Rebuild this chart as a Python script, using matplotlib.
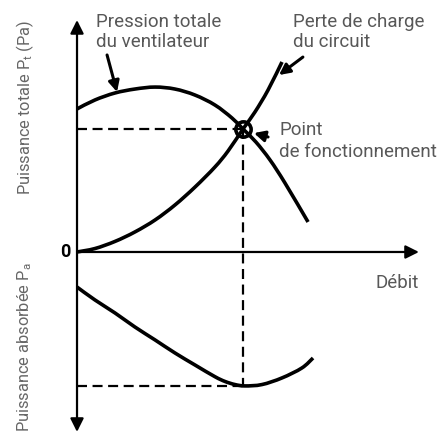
import matplotlib
matplotlib.use("Agg")
import matplotlib.pyplot as plt
import numpy as np
from matplotlib.path import Path
from matplotlib.patches import PathPatch

plt.rcParams["font.family"] = ["Roboto", "DejaVu Sans"]
plt.rcParams["mathtext.fontset"] = "custom"
plt.rcParams["mathtext.rm"] = "Roboto"

# Débit (flow) in relative units: 100 = operating point
fan_flow = [0, 10.8, 22.9, 34.9, 47.0, 59.0, 71.1, 83.1, 93.4, 100, 107.8, 116.3, 125.3, 139.2]
fan_pressure = [116.3, 123.6, 129.3, 132.5, 134.1, 132.5, 127.6, 119.5, 108.9, 100, 89.4, 74.8, 56.1, 24.4]

circuit_flow = [0, 10.8, 22.9, 34.9, 47.0, 59.0, 71.1, 83.1, 91.0, 100, 107.2, 115.1, 123.5]
circuit_loss = [0, 2.8, 8.6, 16.3, 26.0, 38.2, 52.8, 69.1, 82.1, 100, 113.8, 131.7, 154.5]

power_flow = [0, 10.8, 22.9, 34.9, 47.0, 59.0, 71.1, 83.1, 89.2, 95.2, 101.2, 111.4, 123.5, 135.5, 142.2]
power_absorbed = [28.5, 39.0, 49.6, 61.0, 71.5, 82.1, 91.9, 101.4, 105.3, 107.8, 108.9, 107.8, 102.4, 94.3, 86.2]

op_flow = 100
op_pressure = 100
op_power = 108.9

x_axis_end = 206
y_axis_top = 188.6
y_axis_bottom = -146.3

TEXT = "#585858"
LW = 2.6


def smooth_path(xs, ys):
    """Catmull-Rom curve through the given points, as cubic Bezier segments."""
    pts = np.column_stack([xs, ys]).astype(float)
    verts = [pts[0]]
    codes = [Path.MOVETO]
    n = len(pts)
    for i in range(n - 1):
        p0 = pts[i - 1] if i > 0 else pts[i]
        p1 = pts[i]
        p2 = pts[i + 1]
        p3 = pts[i + 2] if i + 2 < n else pts[i + 1]
        c1 = p1 + (p2 - p0) / 6.0
        c2 = p2 - (p3 - p1) / 6.0
        verts += [c1, c2, p2]
        codes += [Path.CURVE4] * 3
    return Path(verts, codes)


fig = plt.figure(figsize=(4.39, 4.34), dpi=100)
ax = fig.add_axes([0, 0, 1, 1])
ax.set_xlim(-46.4, 218.1)
ax.set_ylim(-148.0, 204.9)
ax.axis("off")

# axes with arrow heads
ax.annotate("", xy=(0, y_axis_top), xytext=(0, y_axis_bottom),
            arrowprops=dict(arrowstyle="<|-|>", color="black", lw=1.6,
                            mutation_scale=20, shrinkA=0, shrinkB=0))
ax.annotate("", xy=(x_axis_end, 0), xytext=(0, 0),
            arrowprops=dict(arrowstyle="-|>", color="black", lw=1.6,
                            mutation_scale=20, shrinkA=0, shrinkB=0))

# dashed guides at the operating point
dash = dict(color="black", lw=1.6, dashes=(4.5, 2.5))
ax.plot([0, op_flow], [op_pressure, op_pressure], **dash)
ax.plot([op_flow, op_flow], [op_pressure, -op_power], **dash)
ax.plot([0, op_flow], [-op_power, -op_power], **dash)

# curves
for xs, ys in [(fan_flow, fan_pressure), (circuit_flow, circuit_loss),
               (power_flow, [-v for v in power_absorbed])]:
    ax.add_patch(PathPatch(smooth_path(xs, ys), fill=False, lw=LW,
                           edgecolor="black", capstyle="butt"))

# operating point marker
ax.plot([op_flow], [op_pressure], marker="o", ms=11, mfc="none",
        mec="black", mew=2.6)

# callout arrows
arrow = dict(arrowstyle="-|>", color="black", lw=2.2, mutation_scale=16,
             shrinkA=0, shrinkB=0)
ax.annotate("", xy=(24.1, 130.1), xytext=(18.1, 160.2), arrowprops=arrow)
ax.annotate("", xy=(121.7, 143.9), xytext=(136.1, 158.5), arrowprops=arrow)
ax.annotate("", xy=(106.6, 96.7), xytext=(115.1, 93.5), arrowprops=arrow)

fs = 13.5
tkw = dict(color=TEXT, fontsize=fs, fontweight="normal", va="baseline", ha="left")
ax.text(11.4, 182.9, "Pression totale", **tkw)
ax.text(11.4, 166.7, "du ventilateur", **tkw)
ax.text(130.1, 182.9, "Perte de charge", **tkw)
ax.text(130.1, 166.7, "du circuit", **tkw)
ax.text(121.7, 95.1, "Point", **tkw)
ax.text(121.7, 77.2, "de fonctionnement", **tkw)
ax.text(206, -29.3, "Débit", color=TEXT, fontsize=fs, fontweight="normal",
        va="baseline", ha="right")

ax.text(-7.2, 0, "0", color="black", fontsize=13, fontweight="bold",
        ha="center", va="center")

ykw = dict(color="#666666", fontsize=11.8, fontweight="normal", rotation=90,
           ha="center", va="center")
ax.text(-31.3, 117.9, r"Puissance totale P$_{\mathregular{t}}$ (Pa)", **ykw)
ax.text(-31.3, -77.5, r"Puissance absorbée P$_{\mathregular{a}}$", **ykw)

fig.savefig("out.png", dpi=100)
